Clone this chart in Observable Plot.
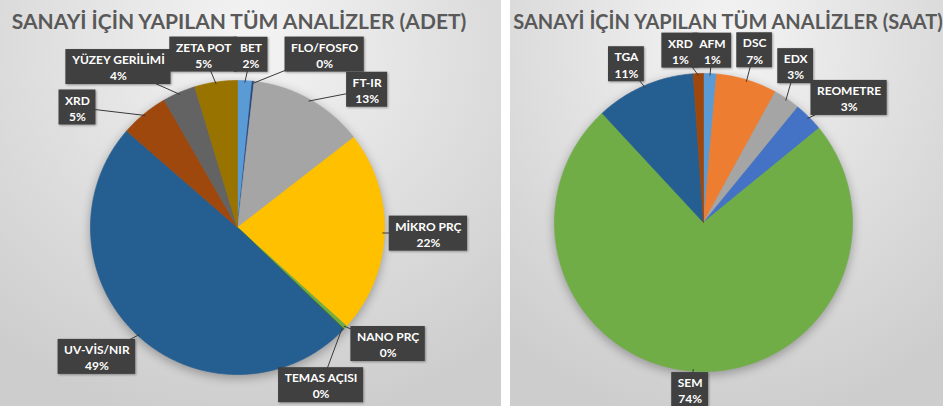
<!DOCTYPE html>
<html><head><meta charset="utf-8">
<script src="https://cdn.jsdelivr.net/npm/d3@7"></script>
<script src="https://cdn.jsdelivr.net/npm/@observablehq/plot@0.6"></script>
<style>
body{margin:0;background:#fff;width:943px;height:406px;overflow:hidden;font-family:Lato,sans-serif}
#wrap{position:relative;width:943px;height:406px}
.panel{position:absolute;top:0;height:406px;background:radial-gradient(ellipse 80% 95% at 50% 10%, #f4f4f4 0%, #e0e0e0 50%, #cdcdcd 100%)}
#left{left:0;width:501px}
#right{left:510px;width:433px}
.panel svg{background:transparent !important}
</style></head><body>
<div id="wrap"><div class="panel" id="left"></div><div class="panel" id="right"></div></div>
<script>
// ---- data ----
const adetTitle = "SANAYİ İÇİN YAPILAN TÜM ANALİZLER (ADET)";
const adetCategories = ["BET","FLO/FOSFO","FT-IR","MİKRO PRÇ","NANO PRÇ","TEMAS AÇISI","UV-VİS/NIR","XRD","YÜZEY GERİLİMİ","ZETA POT"];
const adetValues = [1.6,0.2,12.7,22.2,0.4,0.1,49.2,5.3,3.6,4.7];
const adetColors = ["#5b9bd5","#264478","#a5a5a5","#ffc000","#70ad47","#43682b","#255e91","#9e480e","#636363","#997300"];

const saatTitle = "SANAYİ İÇİN YAPILAN TÜM ANALİZLER (SAAT)";
const saatCategories = ["AFM","DSC","EDX","REOMETRE","SEM","TGA","XRD"];
const saatValues = [1.4,6.6,2.9,3.2,74.0,10.8,1.1];
const saatColors = ["#5b9bd5","#ed7d31","#a5a5a5","#4472c4","#70ad47","#255e91","#9e480e"];

// ---- layout (callout nudges in px) ----
const adetNudge = [[4,16],[67,15],[37,27],[2,-1],[12,-12],[-53,27],[-13,-10],[-40,26],[-44,13],[-6,14]];
const saatNudge = [[1,7],[-1,-1],[-8,-8],[19,2],[-1,-11],[-6,6],[-17,7]];

const canvas = document.createElement("canvas");
const ctx = canvas.getContext("2d");
ctx.font = "bold 12px Lato";

function pieChart({title, cats, vals, colors, nudge, width, cx, cy, r, dist, titleDx, titleSize}) {
  const total = d3.sum(vals);
  const arcs = d3.pie().sort(null).value(d => d)(vals);
  const pts = [];
  const labels = [];
  arcs.forEach((a, i) => {
    const n = Math.max(2, Math.ceil((a.endAngle - a.startAngle) / 0.01));
    pts.push({key: cats[i], x: cx, y: cy});
    for (let k = 0; k <= n; k++) {
      const t = a.startAngle + (a.endAngle - a.startAngle) * k / n;
      pts.push({key: cats[i], x: cx + r * Math.sin(t), y: cy - r * Math.cos(t)});
    }
    pts.push({key: cats[i], x: cx, y: cy});
    const m = (a.startAngle + a.endAngle) / 2;
    const lx = cx + dist * Math.sin(m) + nudge[i][0];
    const ly = cy - dist * Math.cos(m) + nudge[i][1];
    const pct = Math.round(vals[i] * 100 / total);
    const w = Math.max(ctx.measureText(cats[i]).width, ctx.measureText(pct + "%").width) + 12;
    const h = 35;
    labels.push({
      name: cats[i], text: cats[i] + "\n" + pct + "%",
      lx, ly, ax: cx + (r - 2) * Math.sin(m), ay: cy - (r - 2) * Math.cos(m),
      x1: lx - w / 2, x2: lx + w / 2, y1: ly - h / 2, y2: ly + h / 2
    });
  });
  return Plot.plot({
    width, height: 406, margin: 0,
    style: {background: "transparent", fontFamily: "Lato, sans-serif"},
    x: {domain: [0, width], range: [0, width], axis: null},
    y: {domain: [0, 406], range: [0, 406], axis: null},
    color: {domain: cats, range: colors},
    marks: [
      Plot.dot([{x: cx, y: cy + 3}], {x: "x", y: "y", r: r + 1, fill: "black", fillOpacity: 0.28, imageFilter: "blur(5px)"}),
      Plot.line(pts, {x: "x", y: "y", z: "key", fill: "key", stroke: "key", strokeWidth: 0.7, curve: "linear"}),
      Plot.link(labels, {x1: "lx", y1: "ly", x2: "ax", y2: "ay", stroke: "#3a3a3a", strokeWidth: 1}),
      Plot.rect(labels, {x1: "x1", x2: "x2", y1: "y1", y2: "y2", fill: "#404040", imageFilter: "drop-shadow(1px 1px 1px rgba(0,0,0,0.35))"}),
      Plot.text(labels, {x: "lx", y: "ly", text: "text", fill: "white", fontWeight: "bold", fontSize: 12, lineHeight: 1.35, fontFamily: "Lato"}),
      Plot.text([title], {frameAnchor: "top", dx: titleDx, dy: 14, fontSize: titleSize, fontWeight: "bold", fill: "#595959", fontFamily: "Lato", lineAnchor: "top"})
    ]
  });
}

document.getElementById("left").appendChild(pieChart({
  title: adetTitle, cats: adetCategories, vals: adetValues, colors: adetColors, nudge: adetNudge,
  width: 501, cx: 237, cy: 227, r: 147, dist: 189, titleDx: -12, titleSize: 21
}));
document.getElementById("right").appendChild(pieChart({
  title: saatTitle, cats: saatCategories, vals: saatValues, colors: saatColors, nudge: saatNudge,
  width: 433, cx: 193, cy: 222, r: 149, dist: 179, titleDx: 1, titleSize: 20
}));
</script>
</body></html>
